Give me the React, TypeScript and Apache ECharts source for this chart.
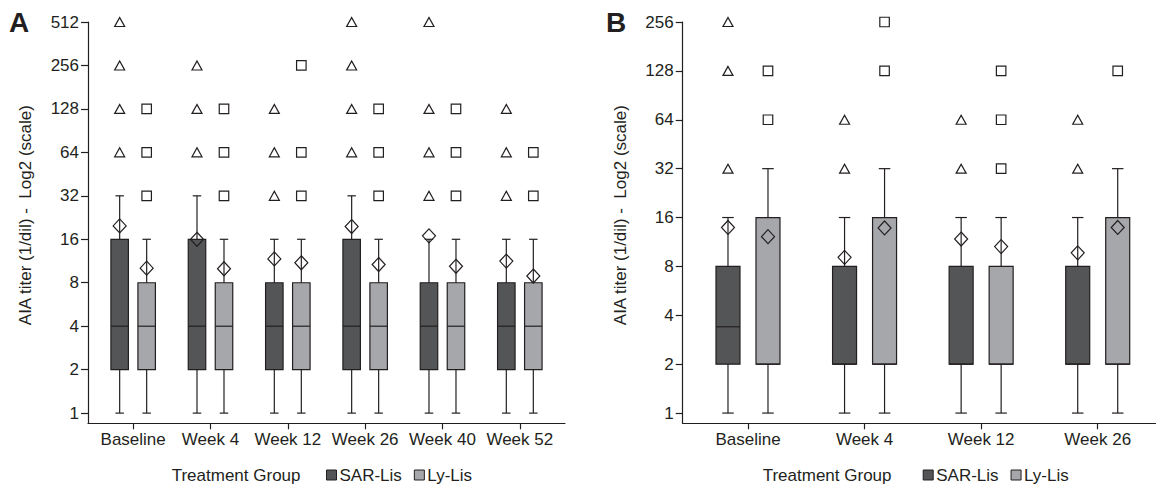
import React, { useEffect, useRef } from 'react';
import * as echarts from 'echarts';

// ---------- data ----------
const categoriesA = ['Baseline', 'Week 4', 'Week 12', 'Week 26', 'Week 40', 'Week 52'];
// [min, q1, median, q3, max]
const sarBoxA = [
  [1, 2, 4, 16, 32],
  [1, 2, 4, 16, 32],
  [1, 2, 4, 8, 16],
  [1, 2, 4, 16, 32],
  [1, 2, 4, 8, 16],
  [1, 2, 4, 8, 16],
];
const lyBoxA = [
  [1, 2, 4, 8, 16],
  [1, 2, 4, 8, 16],
  [1, 2, 4, 8, 16],
  [1, 2, 4, 8, 16],
  [1, 2, 4, 8, 16],
  [1, 2, 4, 8, 16],
];
const sarMeanA = [19.8, 16, 11.7, 19.6, 16.9, 11.3];
const lyMeanA = [10.1, 10, 11, 10.7, 10.4, 8.9];
const sarOutA = [
  [64, 128, 256, 512],
  [64, 128, 256],
  [32, 64, 128],
  [64, 128, 256, 512],
  [32, 64, 128, 512],
  [32, 64, 128],
];
const lyOutA = [
  [32, 64, 128],
  [32, 64, 128],
  [32, 64, 256],
  [32, 64, 128],
  [32, 64, 128],
  [32, 64],
];

const categoriesB = ['Baseline', 'Week 4', 'Week 12', 'Week 26'];
const sarBoxB = [
  [1, 2, 3.4, 8, 16],
  [1, 2, 2, 8, 16],
  [1, 2, 2, 8, 16],
  [1, 2, 2, 8, 16],
];
const lyBoxB = [
  [1, 2, 2, 16, 32],
  [1, 2, 2, 16, 32],
  [1, 2, 2, 8, 16],
  [1, 2, 2, 16, 32],
];
const sarMeanB = [13.9, 9.1, 11.8, 9.7];
const lyMeanB = [12.2, 13.8, 10.6, 13.9];
const sarOutB = [
  [32, 128, 256],
  [32, 64],
  [32, 64],
  [32, 64],
];
const lyOutB = [
  [64, 128],
  [128, 256],
  [32, 64, 128],
  [128],
];

const yTicksA = [1, 2, 4, 8, 16, 32, 64, 128, 256, 512];
const yTicksB = [1, 2, 4, 8, 16, 32, 64, 128, 256];
const groupNames = ['SAR-Lis', 'Ly-Lis'];
const legendTitle = 'Treatment Group';
const yTitle = 'AIA titer (1/dil) -  Log2 (scale)';

// ---------- styles ----------
const FONT = "'Liberation Sans', Arial, Helvetica, sans-serif";
const INK = '#231f20';
const SAR_COLOR = '#545557';
const LY_COLOR = '#a6a7aa';

function boxSeries(name: string, boxes: number[][], gridIdx: number, color: string, offset: number, boxW: number, capW: number) {
  return {
    type: 'custom',
    name,
    xAxisIndex: gridIdx * 2,
    yAxisIndex: gridIdx * 2,
    z: 2,
    data: boxes.map((b, i) => [i, ...b]),
    encode: { x: 0, y: [1, 2, 3, 4, 5] },
    renderItem: (params: any, api: any) => {
      const i = api.value(0);
      const v = [1, 2, 3, 4, 5].map((d) => api.value(d));
      const p = v.map((val) => api.coord([i, val]));
      const x = p[0][0] + offset;
      const [yMin, yQ1, yMed, yQ3, yMax] = p.map((q: number[]) => q[1]);
      const ls = { stroke: INK, lineWidth: 1.2 };
      const h = boxW / 2;
      const c = capW / 2;
      return {
        type: 'group',
        children: [
          { type: 'line', shape: { x1: x, y1: yMax, x2: x, y2: yMin }, style: ls },
          { type: 'line', shape: { x1: x - c, y1: yMax, x2: x + c, y2: yMax }, style: ls },
          { type: 'line', shape: { x1: x - c, y1: yMin, x2: x + c, y2: yMin }, style: ls },
          { type: 'rect', shape: { x: x - h, y: yQ3, width: boxW, height: yQ1 - yQ3 }, style: { fill: color, stroke: INK, lineWidth: 1.2 } },
          { type: 'line', shape: { x1: x - h, y1: yMed, x2: x + h, y2: yMed }, style: ls },
        ],
      };
    },
  };
}

function pointSeries(name: string, data: number[][], gridIdx: number, symbol: string, size: number[], offset: number) {
  return {
    type: 'scatter',
    name,
    xAxisIndex: gridIdx * 2,
    yAxisIndex: gridIdx * 2,
    z: 3,
    symbol,
    symbolSize: size,
    symbolOffset: [offset, 0],
    itemStyle: { color: 'rgba(0,0,0,0)', borderColor: INK, borderWidth: 1.2, opacity: 1 },
    data,
  };
}

function outlierData(outs: number[][]) {
  const res: number[][] = [];
  outs.forEach((arr, i) => arr.forEach((v) => res.push([i, v])));
  return res;
}
function meanData(means: number[]) {
  return means.map((m, i) => [i, m]);
}

function panelAxes(cats: string[], yTicks: number[], yMin: number, yMax: number, dataGrid: number, lineGrid: number, yOffset: number) {
  const xAxes = [
    {
      type: 'category',
      gridIndex: dataGrid,
      data: cats,
      axisLine: { show: false },
      axisTick: { show: true, alignWithLabel: true, length: 6, lineStyle: { color: INK, width: 1.2 } },
      axisLabel: { interval: 0, fontSize: 17, fontFamily: FONT, color: INK, margin: 8 },
      splitLine: { show: false },
    },
    {
      type: 'value',
      gridIndex: lineGrid,
      min: 0,
      max: 1,
      axisLine: { show: true, lineStyle: { color: INK, width: 1.2 } },
      axisTick: { show: false },
      axisLabel: { show: false },
      splitLine: { show: false },
    },
  ];
  const yAxes = [
    {
      type: 'log',
      logBase: 2,
      gridIndex: dataGrid,
      min: yMin,
      max: yMax,
      offset: yOffset,
      name: yTitle,
      nameLocation: 'middle',
      nameGap: 54,
      nameTextStyle: { fontSize: 17, fontFamily: FONT, color: INK, padding: [0, 0, 0, 15] },
      axisLine: { show: true, lineStyle: { color: INK, width: 1.2 } },
      axisTick: { show: true, length: 7, customValues: yTicks, lineStyle: { color: INK, width: 1.2 } },
      axisLabel: { customValues: yTicks, fontSize: 17, fontFamily: FONT, color: INK, margin: 9, formatter: (v: number) => String(Math.round(v)) },
      splitLine: { show: false },
      minorTick: { show: false },
    },
    {
      type: 'value',
      gridIndex: lineGrid,
      show: false,
      min: 0,
      max: 1,
    },
  ];
  return { xAxes, yAxes };
}

export default function App() {
  const ref = useRef<HTMLDivElement>(null);
  useEffect(() => {
    if (!ref.current) return;
    const chart = echarts.init(ref.current, undefined, { renderer: 'svg' });

    const gTop = 22;
    const gBottom = 489 - 423.3;
    // Panel A
    const aAxis = 88, aPad = 6.5, aBand = 77.33;
    const aWidth = aBand * categoriesA.length;
    // Panel B
    const bAxis = 682.7, bPad = 7, bBand = 116.7;
    const bWidth = bBand * categoriesB.length;

    const A = panelAxes(categoriesA, yTicksA, 0.85, 512, 0, 1, aPad);
    const B = panelAxes(categoriesB, yTicksB, 0.865, 256, 2, 3, bPad);

    const legendBase = {
      orient: 'horizontal',
      icon: 'rect',
      itemWidth: 10,
      itemHeight: 10,
      itemGap: 12,
      top: 466.5,
      padding: 0,
      selectedMode: false,
      textStyle: { fontSize: 17, fontFamily: FONT, color: INK, padding: [0, 0, 0, -2] },
      data: [
        { name: groupNames[0], itemStyle: { color: SAR_COLOR, borderColor: INK, borderWidth: 1 } },
        { name: groupNames[1], itemStyle: { color: LY_COLOR, borderColor: INK, borderWidth: 1 } },
      ],
    };

    const option: any = {
      animation: false,
      textStyle: { fontFamily: FONT },
      grid: [
        { left: aAxis + aPad, width: aWidth, top: gTop, bottom: gBottom, containLabel: false },
        { left: aAxis, width: aWidth + 2 * aPad, top: gTop, bottom: gBottom, containLabel: false },
        { left: bAxis + bPad, width: bWidth, top: gTop, bottom: gBottom, containLabel: false },
        { left: bAxis, width: bWidth + 2 * bPad, top: gTop, bottom: gBottom, containLabel: false },
      ],
      xAxis: [...A.xAxes, ...B.xAxes],
      yAxis: [...A.yAxes, ...B.yAxes],
      legend: [
        { ...legendBase, left: 326 },
        { ...legendBase, left: 922.7 },
      ],
      graphic: [
        { type: 'text', left: 9, top: 8, style: { text: 'A', font: `bold 28px ${FONT}`, fill: INK } },
        { type: 'text', left: 606, top: 8, style: { text: 'B', font: `bold 28px ${FONT}`, fill: INK } },
        { type: 'text', left: 171.7, top: 467, style: { text: legendTitle, font: `17px ${FONT}`, fill: INK } },
        { type: 'text', left: 762.7, top: 467, style: { text: legendTitle, font: `17px ${FONT}`, fill: INK } },
      ],
      series: [
        boxSeries(groupNames[0], sarBoxA, 0, SAR_COLOR, -13.5, 17.5, 8.5),
        boxSeries(groupNames[1], lyBoxA, 0, LY_COLOR, 13.5, 17.5, 8.5),
        pointSeries('SAR-Lis outliers A', outlierData(sarOutA), 0, 'triangle', [10, 9], -13.5),
        pointSeries('Ly-Lis outliers A', outlierData(lyOutA), 0, 'rect', [9.5, 9.5], 13.5),
        pointSeries('SAR-Lis mean A', meanData(sarMeanA), 0, 'diamond', [13, 14], -13.5),
        pointSeries('Ly-Lis mean A', meanData(lyMeanA), 0, 'diamond', [13, 14], 13.5),

        boxSeries(groupNames[0], sarBoxB, 1, SAR_COLOR, -20, 24, 11.5),
        boxSeries(groupNames[1], lyBoxB, 1, LY_COLOR, 20, 24, 11.5),
        pointSeries('SAR-Lis outliers B', outlierData(sarOutB), 1, 'triangle', [10, 9], -20),
        pointSeries('Ly-Lis outliers B', outlierData(lyOutB), 1, 'rect', [9.5, 9.5], 20),
        pointSeries('SAR-Lis mean B', meanData(sarMeanB), 1, 'diamond', [13, 14], -20),
        pointSeries('Ly-Lis mean B', meanData(lyMeanB), 1, 'diamond', [13, 14], 20),
      ],
    };
    chart.setOption(option);
    return () => chart.dispose();
  }, []);
  return <div ref={ref} style={{ position: 'fixed', left: 0, top: 0, width: 1156, height: 489, background: '#fff' }} />;
}
